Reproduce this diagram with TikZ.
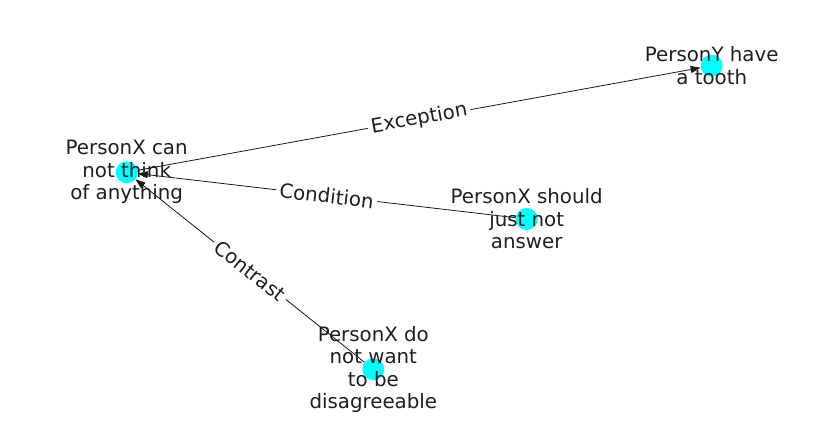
\documentclass[tikz,border=0pt]{standalone}
\usepackage{fontspec}
\setmainfont{DejaVu Sans}
\usetikzlibrary{arrows.meta}
\definecolor{aqua}{RGB}{0,255,255}
\begin{document}
\begin{tikzpicture}[x=1pt,y=1pt,
  dot/.style={circle,fill=aqua,minimum size=22pt,inner sep=0pt},
  txt/.style={align=center,inner sep=0pt,font=\fontsize{19.8pt}{22.5pt}\selectfont,text=black!88},
  rel/.style={draw=black!90,line width=0.8pt,-{Triangle[length=10pt,width=7pt]}},
  lab/.style={midway,sloped,fill=white,inner sep=3.5pt,font=\fontsize{19.8pt}{22.5pt}\selectfont,text=black!88}]
\useasboundingbox (0,0) rectangle (837,434);
\node[dot] (A) at (126.7,261.7) {};
\node[dot] (B) at (711.7,368.3) {};
\node[dot] (C) at (526.7,215) {};
\node[dot] (D) at (373.3,64.7) {};
\draw[rel] (A) -- (B) node[lab] {Exception};
\draw[rel] (C) -- (A) node[lab] {Condition};
\draw[rel] (D) -- (A) node[lab] {Contrast};
\node[txt] (tA) at (A) {PersonX can\\not think\\of anything};
\node[txt] (tB) at (B) {PersonY have\\a tooth};
\node[txt] (tC) at (C) {PersonX should\\just not\\answer};
\node[txt] (tD) at (D) {PersonX do\\not want\\to be\\disagreeable};
\end{tikzpicture}
\end{document}
